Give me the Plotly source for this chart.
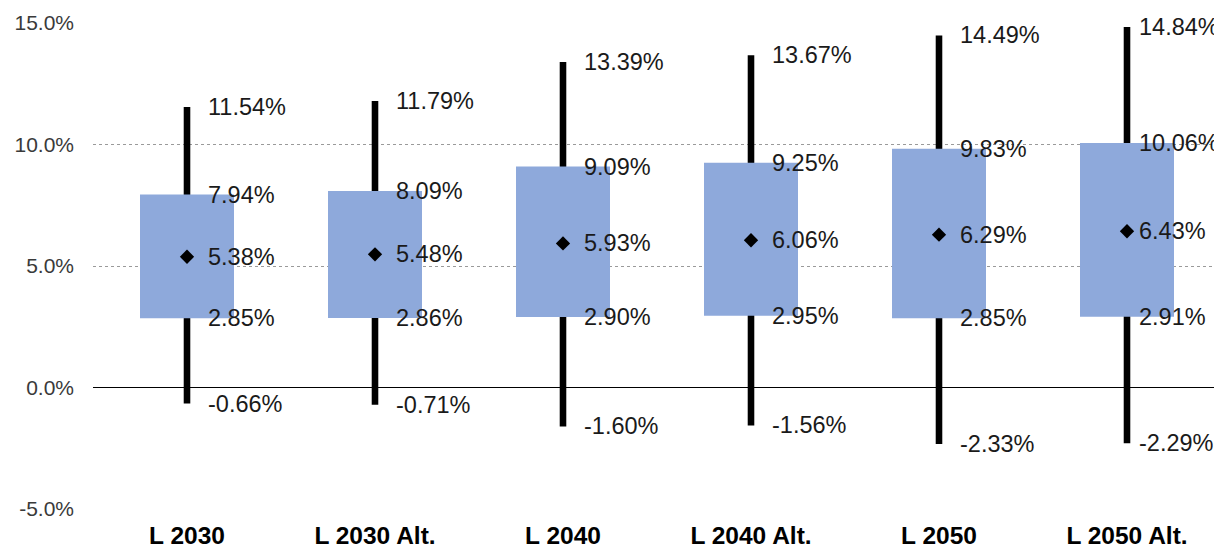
import plotly.graph_objects as go

categories = ["L 2030", "L 2030 Alt.", "L 2040", "L 2040 Alt.", "L 2050", "L 2050 Alt."]
max_vals = [11.54, 11.79, 13.39, 13.67, 14.49, 14.84]
q3_vals = [7.94, 8.09, 9.09, 9.25, 9.83, 10.06]
mean_vals = [5.38, 5.48, 5.93, 6.06, 6.29, 6.43]
q1_vals = [2.85, 2.86, 2.90, 2.95, 2.85, 2.91]
min_vals = [-0.66, -0.71, -1.60, -1.56, -2.33, -2.29]
y_ticks = [-5, 0, 5, 10, 15]

xs = list(range(len(categories)))
FONT = "Arial, 'Liberation Sans', sans-serif"
# label offset from whisker (px); last column is nudged left to fit the frame
label_shift = [19, 19, 19, 19, 19, 10]

fig = go.Figure()

# whiskers (thin bars)
fig.add_trace(go.Bar(
    x=xs, base=min_vals, y=[mx - mn for mx, mn in zip(max_vals, min_vals)],
    width=0.035, marker=dict(color="black", line=dict(width=0)),
    hoverinfo="skip", showlegend=False))

# boxes
fig.add_trace(go.Bar(
    x=xs, base=q1_vals, y=[a - b for a, b in zip(q3_vals, q1_vals)],
    width=0.5, marker=dict(color="#8EA9DB", line=dict(width=0)),
    hoverinfo="skip", showlegend=False))

# means
fig.add_trace(go.Scatter(
    x=xs, y=mean_vals, mode="markers",
    marker=dict(symbol="diamond", size=11, color="black"),
    hoverinfo="skip", showlegend=False))

annotations = []
for series in (max_vals, q3_vals, mean_vals, q1_vals, min_vals):
    for x, v in zip(xs, series):
        annotations.append(dict(
            x=x, y=v, xref="x", yref="y", text=f"{v:.2f}%",
            showarrow=False, xanchor="left", yanchor="middle",
            xshift=label_shift[x],
            font=dict(family=FONT, size=23.5, color="#1a1a1a")))

fig.update_layout(
    width=1214, height=544,
    margin=dict(l=85, r=1, t=15, b=43),
    paper_bgcolor="white", plot_bgcolor="white",
    barmode="overlay",
    showlegend=False,
    annotations=annotations,
    xaxis=dict(
        range=[-0.5, len(categories) - 0.5],
        tickmode="array", tickvals=xs, ticktext=categories,
        showgrid=False, zeroline=False, showline=False, ticks="",
        tickfont=dict(family=FONT, size=24.5, color="black", weight="bold"),
        ticklabelstandoff=9, automargin=False,
    ),
    yaxis=dict(
        range=[-5, 15],
        tickmode="array", tickvals=y_ticks,
        ticktext=[f"{t:.1f}%" for t in y_ticks],
        showgrid=True, gridcolor="#9a9a9a", gridwidth=1, griddash="dot",
        zeroline=True, zerolinecolor="black", zerolinewidth=1.3,
        showline=False, ticks="",
        tickfont=dict(family=FONT, size=21, color="#3a3a3a"),
        ticklabelstandoff=18, automargin=False,
    ),
)

fig.write_html("out.html")
